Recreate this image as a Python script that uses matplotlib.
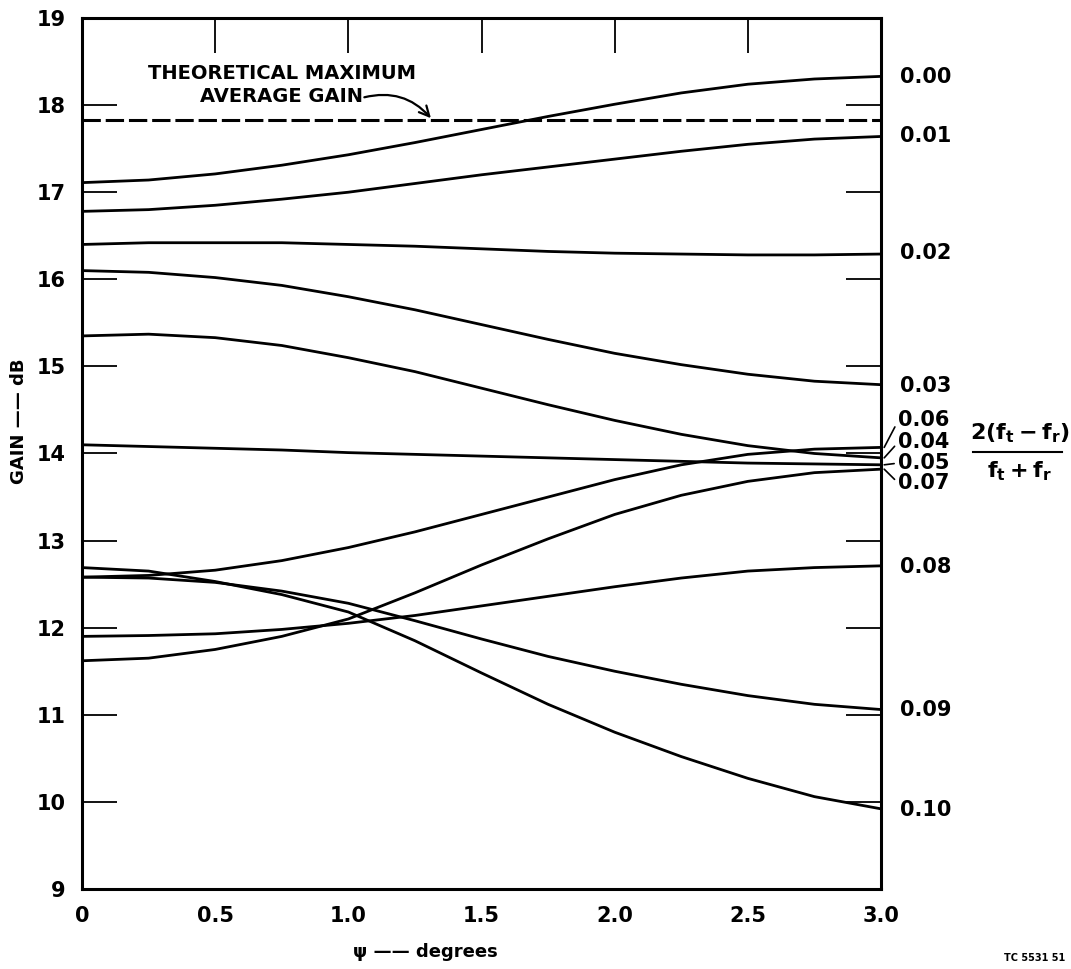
import numpy as np
import matplotlib.pyplot as plt
from matplotlib.lines import Line2D

# psi (degrees) sample points
psi = [0.0, 0.25, 0.5, 0.75, 1.0, 1.25, 1.5, 1.75, 2.0, 2.25, 2.5, 2.75, 3.0]

# gain (dB) for each value of 2(ft-fr)/(ft+fr)
ratio_labels = ["0.00", "0.01", "0.02", "0.03", "0.04", "0.05",
                "0.06", "0.07", "0.08", "0.09", "0.10"]
gain_000 = [17.11, 17.14, 17.21, 17.31, 17.43, 17.57, 17.72, 17.87, 18.01, 18.14, 18.24, 18.30, 18.33]
gain_001 = [16.78, 16.80, 16.85, 16.92, 17.00, 17.10, 17.20, 17.29, 17.38, 17.47, 17.55, 17.61, 17.64]
gain_002 = [16.40, 16.42, 16.42, 16.42, 16.40, 16.38, 16.35, 16.32, 16.30, 16.29, 16.28, 16.28, 16.29]
gain_003 = [16.10, 16.08, 16.02, 15.93, 15.80, 15.65, 15.48, 15.31, 15.15, 15.02, 14.91, 14.83, 14.79]
gain_004 = [15.35, 15.37, 15.33, 15.24, 15.10, 14.94, 14.75, 14.56, 14.38, 14.22, 14.09, 14.00, 13.95]
gain_005 = [14.10, 14.08, 14.06, 14.04, 14.01, 13.99, 13.97, 13.95, 13.93, 13.91, 13.89, 13.88, 13.87]
gain_006 = [12.58, 12.60, 12.66, 12.77, 12.92, 13.10, 13.30, 13.50, 13.70, 13.87, 13.99, 14.05, 14.07]
gain_007 = [11.62, 11.65, 11.75, 11.90, 12.10, 12.40, 12.72, 13.02, 13.30, 13.52, 13.68, 13.78, 13.82]
gain_008 = [11.90, 11.91, 11.93, 11.98, 12.05, 12.14, 12.25, 12.36, 12.47, 12.57, 12.65, 12.69, 12.71]
gain_009 = [12.58, 12.57, 12.52, 12.42, 12.28, 12.08, 11.87, 11.67, 11.50, 11.35, 11.22, 11.12, 11.06]
gain_010 = [12.69, 12.65, 12.53, 12.38, 12.18, 11.85, 11.48, 11.12, 10.80, 10.52, 10.27, 10.06, 9.92]
curves = [gain_000, gain_001, gain_002, gain_003, gain_004, gain_005,
          gain_006, gain_007, gain_008, gain_009, gain_010]

theoretical_max = 17.83

# right-hand label heights (crowded ones are pushed apart with leaders)
label_y = [18.32, 17.65, 16.30, 14.78, 14.13, 13.89, 14.38, 13.66, 12.70, 11.06, 9.91]
has_leader = [False, False, False, False, True, True, True, True, False, False, False]

plt.rcParams["font.family"] = "DejaVu Sans"
plt.rcParams["font.weight"] = "bold"

fig = plt.figure(figsize=(10.71, 9.69), dpi=100)
ax = fig.add_axes([0.0766, 0.0826, 0.746, 0.8988])

for g in curves:
    ax.plot(psi, g, color="black", lw=2.0, solid_joinstyle="round")

ax.plot([0, 3.0], [theoretical_max] * 2, color="black", lw=2.2,
        dashes=(6, 1.6))

ax.set_xlim(0, 3.0)
ax.set_ylim(9, 19)
ax.set_xticks([0, 0.5, 1.0, 1.5, 2.0, 2.5, 3.0])
ax.set_xticklabels(["0", "0.5", "1.0", "1.5", "2.0", "2.5", "3.0"])
ax.set_yticks(range(9, 20))
ax.tick_params(axis="x", direction="in", length=25, width=1.3,
               bottom=False, top=True, labelbottom=True, labelsize=15, pad=12)
ax.tick_params(axis="y", direction="in", length=25, width=1.3,
               left=True, right=True, labelright=False, labelsize=15, pad=12)
for sp in ax.spines.values():
    sp.set_linewidth(2.2)

# right-hand curve labels
for i, lab in enumerate(ratio_labels):
    end_val = curves[i][-1]
    if has_leader[i]:
        ax.annotate(lab, xy=(3.012, end_val), xytext=(3.065, label_y[i]),
                    fontsize=15, ha="left", va="center", annotation_clip=False,
                    arrowprops=dict(arrowstyle="-", lw=1.2, color="black",
                                    relpos=(0.0, 0.5), shrinkA=1, shrinkB=0))
    else:
        ax.text(3.07, label_y[i], lab, fontsize=15, ha="left", va="center",
                clip_on=False)

# theoretical maximum annotation
ax.text(0.75, 18.23, "THEORETICAL MAXIMUM\nAVERAGE GAIN", fontsize=14,
        ha="center", va="center", multialignment="center", linespacing=1.25)
ax.annotate("", xy=(1.31, theoretical_max + 0.02), xytext=(1.06, 18.09),
            arrowprops=dict(arrowstyle="->", lw=1.6, color="black",
                            connectionstyle="arc3,rad=-0.3",
                            mutation_scale=18, shrinkA=0, shrinkB=0))

# axis titles
fig.text(0.018, 0.565, "GAIN —— dB", rotation=90, fontsize=13,
         ha="center", va="center")
fig.text(0.397, 0.018, "ψ —— degrees", fontsize=13, ha="center", va="center")
fig.text(0.995, 0.006, "TC 5531 51", fontsize=7, ha="right", va="bottom")

# fraction legend on the right
fig.text(0.952, 0.553, r"$\mathregular{2(f_t - f_r)}$", fontsize=16,
         ha="center", va="center")
fig.add_artist(Line2D([0.9085, 0.9916], [0.5335, 0.5335], color="black",
                      lw=1.5, transform=fig.transFigure))
fig.text(0.952, 0.514, r"$\mathregular{f_t + f_r}$", fontsize=16,
         ha="center", va="center")

fig.savefig("out.png", dpi=100)
